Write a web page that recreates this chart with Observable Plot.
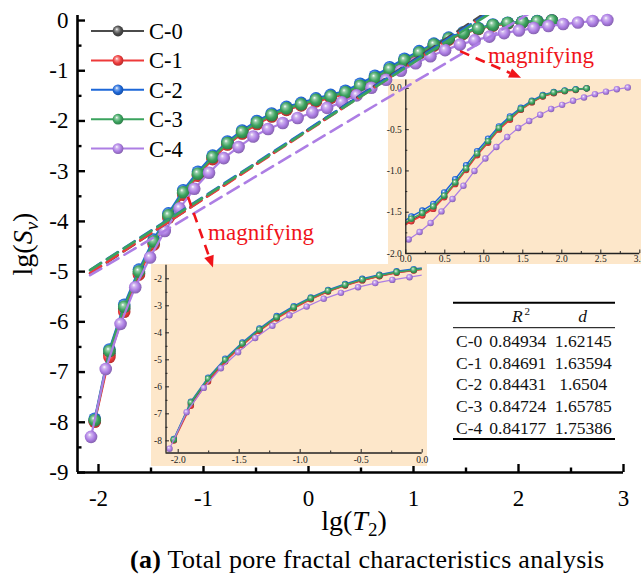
<!DOCTYPE html>
<html>
<head>
<meta charset="utf-8">
<script src="https://cdn.jsdelivr.net/npm/d3@7"></script>
<script src="https://cdn.jsdelivr.net/npm/@observablehq/plot@0.6"></script>
<style>
  body { margin: 0; background: #fff; }
  #wrap { position: relative; width: 641px; height: 581px; overflow: hidden; font-family: "Liberation Serif", serif; }
  #wrap > svg { position: absolute; }
  #wrap svg text, #wrap svg tspan { font-family: "Liberation Serif", serif; }
  #caption { position: absolute; left: 130px; top: 549px; font-size: 26px; line-height: 22px; letter-spacing: 0.3px; white-space: nowrap; color: #000; font-family: "Liberation Serif", serif; }
</style>
</head>
<body>
<div id="wrap"></div>
<script>
// ---------------- data ----------------
const seriesNames = ["C-0", "C-1", "C-2", "C-3", "C-4"];
const seriesColors = ["#4b4b4b", "#ee3a3a", "#1d67d8", "#3ba35e", "#ad7ee4"];

const xGrid03 = [-2.036,-1.896,-1.755,-1.615,-1.474,-1.334,-1.193,-1.053,-0.913,-0.772,-0.632,-0.491,-0.351,-0.210,-0.070,0.071,0.211,0.352,0.492,0.633,0.773,0.914,1.054,1.194,1.335,1.475,1.616,1.756,1.897,2.037,2.178,2.318];
const xGrid4 = [-2.071,-1.931,-1.790,-1.650,-1.509,-1.369,-1.228,-1.088,-0.947,-0.807,-0.666,-0.526,-0.385,-0.245,-0.104,0.037,0.177,0.318,0.458,0.599,0.739,0.880,1.020,1.161,1.301,1.442,1.582,1.723,1.863,2.004,2.144,2.285,2.425,2.566,2.706,2.846];

const yC0 = [-7.97,-6.63,-5.74,-5.03,-4.43,-3.90,-3.44,-3.07,-2.74,-2.46,-2.24,-2.05,-1.90,-1.77,-1.68,-1.60,-1.53,-1.44,-1.31,-1.15,-0.98,-0.80,-0.65,-0.49,-0.37,-0.255,-0.165,-0.095,-0.055,-0.03,-0.015,0.0];
const yC1 = [-7.99,-6.70,-5.80,-5.06,-4.46,-3.93,-3.47,-3.09,-2.76,-2.47,-2.25,-2.06,-1.91,-1.78,-1.69,-1.61,-1.54,-1.46,-1.32,-1.16,-0.99,-0.81,-0.66,-0.50,-0.38,-0.26,-0.17,-0.10,-0.06,-0.035,-0.02,0.0];
const yC2 = [-7.93,-6.55,-5.66,-4.96,-4.36,-3.84,-3.38,-3.01,-2.69,-2.41,-2.19,-2.00,-1.85,-1.72,-1.64,-1.55,-1.48,-1.40,-1.26,-1.10,-0.93,-0.76,-0.61,-0.46,-0.34,-0.235,-0.15,-0.08,-0.045,-0.025,-0.01,0.0];
const yC3 = [-7.96,-6.58,-5.70,-5.00,-4.40,-3.88,-3.42,-3.05,-2.72,-2.44,-2.22,-2.03,-1.88,-1.75,-1.67,-1.58,-1.51,-1.43,-1.30,-1.14,-0.97,-0.79,-0.64,-0.48,-0.36,-0.25,-0.16,-0.09,-0.05,-0.03,-0.015,0.0];
const yC4 = [-8.29,-6.94,-6.04,-5.31,-4.72,-4.19,-3.74,-3.35,-3.03,-2.74,-2.52,-2.31,-2.16,-2.04,-1.94,-1.83,-1.74,-1.63,-1.49,-1.34,-1.18,-1.00,-0.85,-0.71,-0.59,-0.48,-0.395,-0.32,-0.25,-0.20,-0.15,-0.11,-0.07,-0.04,-0.01,0.01];

const tableR2 = ["0.84934", "0.84691", "0.84431", "0.84724", "0.84177"];
const tableD = ["1.62145", "1.63594", "1.6504", "1.65785", "1.75386"];
const fitIntercepts = [-2.17, -2.19, -2.16, -2.18, -2.48];
const fitXRange = [-2.08, 2.4];

const mainXTicks = [-2, -1, 0, 1, 2, 3];
const mainXMinor = [-1.5, -0.5, 0.5, 1.5, 2.5];
const mainYTicks = [-9, -8, -7, -6, -5, -4, -3, -2, -1, 0];
const mainYMinor = [-8.5, -7.5, -6.5, -5.5, -4.5, -3.5, -2.5, -1.5, -0.5];

const lowerXTicks = [-2, -1.5, -1, -0.5, 0];
const lowerXMinor = [-1.75, -1.25, -0.75, -0.25];
const lowerYTicks = [-8, -7, -6, -5, -4, -3, -2];
const lowerYMinor = [-7.5, -6.5, -5.5, -4.5, -3.5, -2.5];

const upperXTicks = [0, 0.5, 1, 1.5, 2, 2.5, 3];
const upperXMinor = [0.25, 0.75, 1.25, 1.75, 2.25, 2.75];
const upperYTicks = [-2, -1.5, -1, -0.5, 0];
const upperYMinor = [-1.75, -1.25, -0.75, -0.25];

const notes = [{text: "magnifying", x: -0.952, y: -4.39}, {text: "magnifying", x: 1.714, y: -0.855}];
const arrows = [{x1: -1.143, y1: -3.52, x2: -0.905, y2: -4.93}, {x1: 1.448, y1: -0.62, x2: 2.029, y2: -1.15}];

// ---------------- build ----------------
const yAll = [yC0, yC1, yC2, yC3, yC4];
const series = seriesNames.map((name, i) => {
  const xs = i < 4 ? xGrid03 : xGrid4;
  return yAll[i].map((y, j) => ({name, x: xs[j], y}));
});
const fits = seriesNames.map((name, i) => {
  const s = 3 - (+tableD[i]);
  return fitXRange.map(x => ({name, x, y: fitIntercepts[i] + s * x}));
});

const wrap = document.getElementById("wrap");
const FONT = "Liberation Serif";

// gradients (shaded balls)
const defsSvg = d3.select(wrap).append("svg").attr("width", 0).attr("height", 0).style("left", 0).style("top", 0);
const defs = defsSvg.append("defs");
seriesColors.forEach((c, i) => {
  const g = defs.append("radialGradient").attr("id", "ball" + i)
    .attr("cx", "0.45").attr("cy", "0.45").attr("r", "0.6").attr("fx", "0.38").attr("fy", "0.33");
  g.append("stop").attr("offset", "0").attr("stop-color", "#ffffff");
  g.append("stop").attr("offset", "0.22").attr("stop-color", d3.interpolateRgb(c, "#fff")(0.45));
  g.append("stop").attr("offset", "0.6").attr("stop-color", c);
  g.append("stop").attr("offset", "1").attr("stop-color", d3.color(c).darker(0.9).formatHex());
});

function seriesMarks(r, sw, clip) {
  return series.flatMap((s, i) => [
    Plot.line(s, {x: "x", y: "y", stroke: seriesColors[i], strokeWidth: i === 4 && r < 5 ? sw * 0.85 : sw, clip}),
    Plot.dot(s, {x: "x", y: "y", r, fill: `url(#ball${i})`, clip})
  ]);
}

// base layer: axes
const W = 641, H = 540, ML = 77, MR = 18, MT = 15, MB = 68;
const FW = W - ML - MR, FH = H - MT - MB;
const base = Plot.plot({
  width: W, height: H, marginLeft: ML, marginRight: MR, marginTop: MT, marginBottom: MB,
  x: {domain: [-2.2, 3], label: null}, y: {domain: [-9, 0.1], label: null},
  style: {fontFamily: FONT, fontSize: "23px", color: "#000", background: "white"},
  marks: [
    Plot.ruleX([-2.2], {strokeWidth: 2.6}),
    Plot.ruleY([-9], {strokeWidth: 2.6}),
    Plot.tickY(mainYTicks, {y: d => d, insetRight: FW - 8, strokeWidth: 2.4}),
    Plot.tickY(mainYMinor, {y: d => d, insetRight: FW - 4.5, strokeWidth: 2.4}),
    Plot.tickX(mainXTicks, {x: d => d, insetTop: FH - 8, strokeWidth: 2.4}),
    Plot.tickX(mainXMinor, {x: d => d, insetTop: FH - 4.5, strokeWidth: 2.4}),
    Plot.axisY({ticks: mainYTicks, tickSize: 0, tickPadding: 9, tickFormat: d => String(d), fontSize: 23, label: null}),
    Plot.axisX({ticks: mainXTicks, tickSize: 0, tickPadding: 17, tickFormat: d => String(d), fontSize: 23, label: null})
  ]
});
base.style.left = "0px"; base.style.top = "0px";
wrap.appendChild(base);

const bs = d3.select(base);
// axis titles
const yt = bs.append("text").attr("transform", "translate(32,244) rotate(-90)").attr("text-anchor", "middle")
  .attr("font-size", 28).attr("fill", "#000");
yt.append("tspan").text("lg(");
yt.append("tspan").attr("font-style", "italic").text("S");
yt.append("tspan").attr("font-style", "italic").attr("font-size", 19).attr("dy", 6).text("v");
yt.append("tspan").attr("dy", -6).text(")");

const xt = bs.append("text").attr("x", 354).attr("y", 530).attr("text-anchor", "middle")
  .attr("font-size", 28).attr("fill", "#000");
xt.append("tspan").text("lg(");
xt.append("tspan").attr("font-style", "italic").text("T");
xt.append("tspan").attr("font-size", 19).attr("dy", 6).text("2");
xt.append("tspan").attr("dy", -6).text(")");

// legend
const lg = bs.append("g");
seriesNames.forEach((name, i) => {
  const y = 31 + i * 29.4;
  lg.append("line").attr("x1", 91).attr("x2", 144).attr("y1", y).attr("y2", y)
    .attr("stroke", seriesColors[i]).attr("stroke-width", 2);
  lg.append("circle").attr("cx", 118).attr("cy", y).attr("r", 5.4).attr("fill", `url(#ball${i})`);
  lg.append("text").attr("x", 149).attr("y", y + 8).attr("text-anchor", "start").attr("font-size", 22.5)
    .attr("fill", "#000").text(name);
});

// table
const tb = bs.append("g").attr("fill", "#111");
tb.append("line").attr("x1", 453).attr("x2", 615).attr("y1", 302.7).attr("y2", 302.7).attr("stroke", "#000").attr("stroke-width", 2);
tb.append("line").attr("x1", 453).attr("x2", 615).attr("y1", 327.7).attr("y2", 327.7).attr("stroke", "#000").attr("stroke-width", 1);
tb.append("line").attr("x1", 453).attr("x2", 615).attr("y1", 439).attr("y2", 439).attr("stroke", "#000").attr("stroke-width", 2);
const hR = tb.append("text").attr("x", 521).attr("y", 322).attr("text-anchor", "middle").attr("font-size", 17.5);
hR.append("tspan").attr("font-style", "italic").text("R");
hR.append("tspan").attr("font-size", 11).attr("dy", -7).attr("dx", 2).text("2");
tb.append("text").attr("x", 582.5).attr("y", 322).attr("text-anchor", "middle").attr("font-size", 17.5)
  .attr("font-style", "italic").text("d");
seriesNames.forEach((name, i) => {
  const y = 340.7 + i * 21.8 + 6;
  tb.append("text").attr("x", 456).attr("y", y).attr("text-anchor", "start").attr("font-size", 17.5).text(name);
  tb.append("text").attr("x", 517.7).attr("y", y).attr("text-anchor", "middle").attr("font-size", 17.5).text(tableR2[i]);
  tb.append("text").attr("x", 583.3).attr("y", y).attr("text-anchor", "middle").attr("font-size", 17.5).text(tableD[i]);
});

// lower inset
const LW = 276, LH = 202, LML = 14.5, LMR = 5.3, LMT = 0.8, LMB = 13.5;
const lower = Plot.plot({
  width: LW, height: LH, marginLeft: LML, marginRight: LMR, marginTop: LMT, marginBottom: LMB,
  x: {domain: [-2.1, 0], label: null}, y: {domain: [-8.45, -1.5], label: null},
  style: {fontFamily: FONT, fontSize: "9.5px", color: "#222", background: "#fde7ca", overflow: "visible"},
  marks: [
    ...seriesMarks(3.2, 1.5, true),
    Plot.ruleX([-2.1], {strokeWidth: 1.3}),
    Plot.ruleY([-8.45], {strokeWidth: 1.3}),
    Plot.tickY(lowerYTicks, {y: d => d, insetRight: LW - LML - LMR - 3.5, strokeWidth: 1}),
    Plot.tickY(lowerYMinor, {y: d => d, insetRight: LW - LML - LMR - 2, strokeWidth: 1}),
    Plot.tickX(lowerXTicks, {x: d => d, insetTop: LH - LMT - LMB - 3.5, strokeWidth: 1}),
    Plot.tickX(lowerXMinor, {x: d => d, insetTop: LH - LMT - LMB - 2, strokeWidth: 1}),
    Plot.axisY({ticks: lowerYTicks, tickSize: 0, tickPadding: 4, tickFormat: d => String(d), fontSize: 9.5, label: null}),
    Plot.axisX({ticks: lowerXTicks, tickSize: 0, tickPadding: 3, tickFormat: d => d.toFixed(1), fontSize: 9.5, label: null})
  ]
});
lower.style.left = "151px"; lower.style.top = "264px";
wrap.appendChild(lower);

// upper inset
const UW = 253, UH = 185, UML = 17.3, UMR = 1.7, UMT = 0.6, UMB = 11;
const upper = Plot.plot({
  width: UW, height: UH, marginLeft: UML, marginRight: UMR, marginTop: UMT, marginBottom: UMB,
  x: {domain: [0, 3], label: null}, y: {domain: [-2, 0.1], label: null},
  style: {fontFamily: FONT, fontSize: "9.5px", color: "#222", background: "#fde7ca", overflow: "visible"},
  marks: [
    ...seriesMarks(3.2, 1.5, true),
    Plot.ruleX([0], {strokeWidth: 1.3}),
    Plot.ruleY([-2], {strokeWidth: 1.3}),
    Plot.tickY(upperYTicks, {y: d => d, insetRight: UW - UML - UMR - 3.5, strokeWidth: 1}),
    Plot.tickY(upperYMinor, {y: d => d, insetRight: UW - UML - UMR - 2, strokeWidth: 1}),
    Plot.tickX(upperXTicks, {x: d => d, insetTop: UH - UMT - UMB - 3.5, strokeWidth: 1}),
    Plot.tickX(upperXMinor, {x: d => d, insetTop: UH - UMT - UMB - 2, strokeWidth: 1}),
    Plot.axisY({ticks: upperYTicks, tickSize: 0, tickPadding: 4, tickFormat: d => d.toFixed(1), fontSize: 9.5, label: null}),
    Plot.axisX({ticks: upperXTicks, tickSize: 0, tickPadding: 2, tickFormat: d => d.toFixed(1), fontSize: 9.5, label: null})
  ]
});
upper.style.left = "388px"; upper.style.top = "79px";
wrap.appendChild(upper);

// overlay: main curves, fit lines, annotations
const overlay = Plot.plot({
  width: W, height: H, marginLeft: ML, marginRight: MR, marginTop: MT, marginBottom: MB,
  x: {domain: [-2.2, 3], axis: null, label: null}, y: {domain: [-9, 0.1], axis: null, label: null},
  style: {background: "transparent", overflow: "visible"},
  marks: [
    ...seriesMarks(6.3, 2.2, false),
    ...fits.map((f, i) => Plot.line(f, {x: "x", y: "y", stroke: seriesColors[i], strokeWidth: 2.6, strokeDasharray: "13,7", clip: true}))
  ]
});
overlay.style.left = "0px"; overlay.style.top = "0px";
wrap.appendChild(overlay);

const sx = overlay.scale("x"), sy = overlay.scale("y");
const os = d3.select(overlay);
const RED = "#f0141a";
arrows.forEach(a => {
  const x1 = sx.apply(a.x1), y1 = sy.apply(a.y1), x2 = sx.apply(a.x2), y2 = sy.apply(a.y2);
  const dx = x2 - x1, dy = y2 - y1, L = Math.hypot(dx, dy), ux = dx / L, uy = dy / L;
  const hl = 12, hw = 5;
  const bx = x2 - ux * hl, by = y2 - uy * hl;
  os.append("line").attr("x1", x1).attr("y1", y1).attr("x2", bx).attr("y2", by)
    .attr("stroke", RED).attr("stroke-width", 2.6).attr("stroke-dasharray", "10,7");
  os.append("polygon").attr("points", `${x2},${y2} ${bx - uy * hw},${by + ux * hw} ${bx + uy * hw},${by - ux * hw}`)
    .attr("fill", RED);
});
notes.forEach(n => {
  os.append("text").attr("x", sx.apply(n.x)).attr("y", sy.apply(n.y)).attr("text-anchor", "start")
    .attr("font-size", 23).attr("fill", RED).text(n.text);
});

// caption
const cap = document.createElement("div");
cap.id = "caption";
cap.innerHTML = "<b>(a)</b> Total pore fractal characteristics analysis";
wrap.appendChild(cap);
</script>
</body>
</html>
